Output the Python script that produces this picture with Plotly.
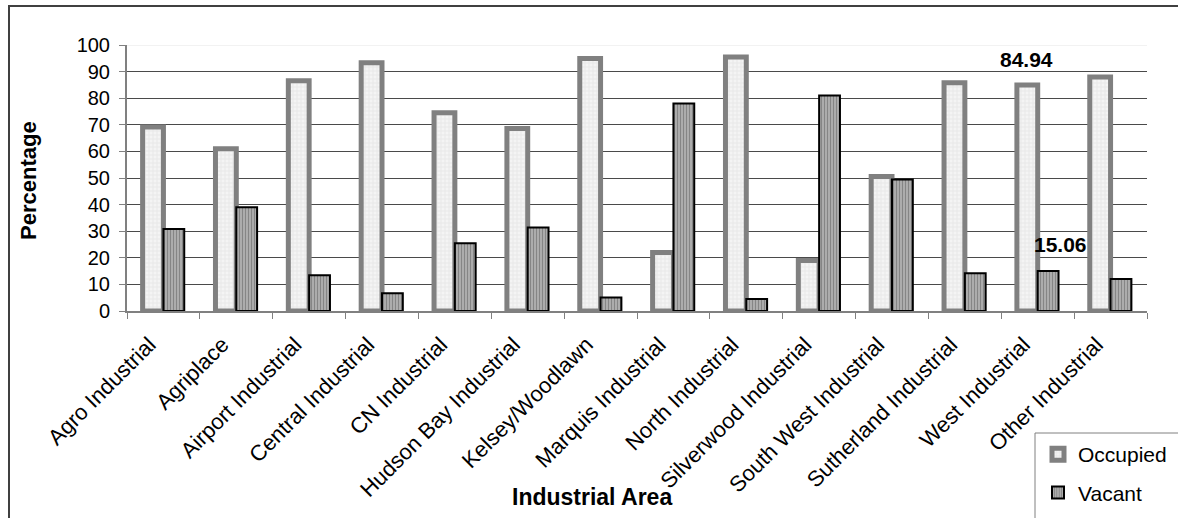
import plotly.graph_objects as go

# Industrial area occupancy (percent of lots)
areas = [
    "Agro Industrial", "Agriplace", "Airport Industrial", "Central Industrial",
    "CN Industrial", "Hudson Bay Industrial", "Kelsey/Woodlawn", "Marquis Industrial",
    "North Industrial", "Silverwood Industrial", "South West Industrial",
    "Sutherland Industrial", "West Industrial", "Other Industrial",
]
occupied = [69.2, 61.0, 86.6, 93.3, 74.5, 68.6, 94.9, 22.0, 95.5, 19.0, 50.6, 85.8, 84.94, 88.0]
vacant = [30.8, 39.0, 13.4, 6.7, 25.5, 31.4, 5.1, 78.0, 4.5, 81.0, 49.4, 14.2, 15.06, 12.0]
y_ticks = [0, 10, 20, 30, 40, 50, 60, 70, 80, 90, 100]

FONT = "Arial, 'Liberation Sans', sans-serif"

# Plot area in pixels
W, H = 1178, 518
L, R, T, B = 127, 1147, 45, 311


def px_x(p):
    return (p - L) / (R - L)


def px_y(p):
    return (B - p) / (B - T)


fig = go.Figure()
fig.add_trace(go.Bar(
    x=areas, y=occupied, name="Occupied", legendgroup="occ",
    marker=dict(
        color="#f2f2f2",
        line=dict(color="#808080", width=5),
        pattern=dict(shape="+", fgcolor="#c8c8c8", bgcolor="#f4f4f4", size=4, solidity=0.25),
    ),
    hoverinfo="x+y",
))
fig.add_trace(go.Bar(
    x=areas, y=vacant, name="Vacant", legendgroup="vac",
    marker=dict(
        color="#9a9a9a",
        line=dict(color="#000000", width=2),
        pattern=dict(shape="|", fgcolor="#5a5a5a", bgcolor="#b0b0b0", size=3, solidity=0.4),
    ),
    hoverinfo="x+y",
))

# Value labels for West Industrial
wi = areas.index("West Industrial")
annotations = [
    dict(x=areas[wi], y=occupied[wi], text="<b>%.2f</b>" % occupied[wi],
         xref="x", yref="y", showarrow=False, xshift=-11, yshift=26,
         font=dict(family=FONT, size=21, color="#000")),
    dict(x=areas[wi], y=vacant[wi], text="<b>%.2f</b>" % vacant[wi],
         xref="x", yref="y", showarrow=False, xshift=23, yshift=26,
         font=dict(family=FONT, size=21, color="#000")),
    dict(x=px_x(592), y=px_y(497), xref="paper", yref="paper", text="<b>Industrial Area</b>",
         showarrow=False, xanchor="center", yanchor="middle",
         font=dict(family=FONT, size=23, color="#000")),
    dict(x=px_x(28), y=px_y(181), xref="paper", yref="paper", text="<b>Percentage</b>",
         showarrow=False, xanchor="center", yanchor="middle", textangle=-90,
         font=dict(family=FONT, size=22, color="#000")),
]

shapes = [
    # light top edge of the plot area
    dict(type="line", xref="paper", yref="y", x0=0, x1=1, y0=100, y1=100,
         line=dict(color="#e6e6e6", width=1), layer="below"),
    # outer chart border
    dict(type="rect", xref="paper", yref="paper",
         x0=px_x(9), x1=px_x(W + 10), y0=px_y(H + 10), y1=px_y(6),
         line=dict(color="#404040", width=2)),
    # legend frame
    dict(type="rect", xref="paper", yref="paper",
         x0=px_x(1035), x1=px_x(W + 10), y0=px_y(H + 10), y1=px_y(433),
         line=dict(color="#808080", width=1), fillcolor="rgba(255,255,255,0)"),
]

fig.update_layout(
    width=W, height=H,
    margin=dict(l=L, r=W - R, t=T, b=H - B, autoexpand=False),
    paper_bgcolor="white", plot_bgcolor="white",
    font=dict(family=FONT, size=21, color="#000"),
    barmode="group", bargap=0.4286, bargroupgap=0,
    showlegend=True,
    legend=dict(
        x=px_x(1038), y=px_y(434), xanchor="left", yanchor="top",
        bgcolor="rgba(0,0,0,0)", borderwidth=0,
        font=dict(family=FONT, size=21, color="#000"),
        traceorder="grouped", tracegroupgap=8,
    ),
    annotations=annotations,
    shapes=shapes,
)
fig.update_xaxes(
    type="category", tickangle=-45, tickson="boundaries",
    ticks="outside", ticklen=6, tickcolor="#808080", tickwidth=1,
    ticklabelshift=-14, ticklabelstandoff=10,
    showline=True, linecolor="#808080", linewidth=2,
    showgrid=False, tickfont=dict(family=FONT, size=22, color="#000"),
)
fig.update_yaxes(
    range=[0, 100], tickvals=y_ticks, ticktext=[str(v) for v in y_ticks],
    ticks="outside", ticklen=6, tickcolor="#808080", tickwidth=1,
    ticklabelstandoff=5,
    showline=True, linecolor="#808080", linewidth=2,
    showgrid=True, gridcolor="#4a4a4a", gridwidth=1, zeroline=False,
    tickfont=dict(family=FONT, size=20, color="#000"),
)

fig.write_html("out.html")
